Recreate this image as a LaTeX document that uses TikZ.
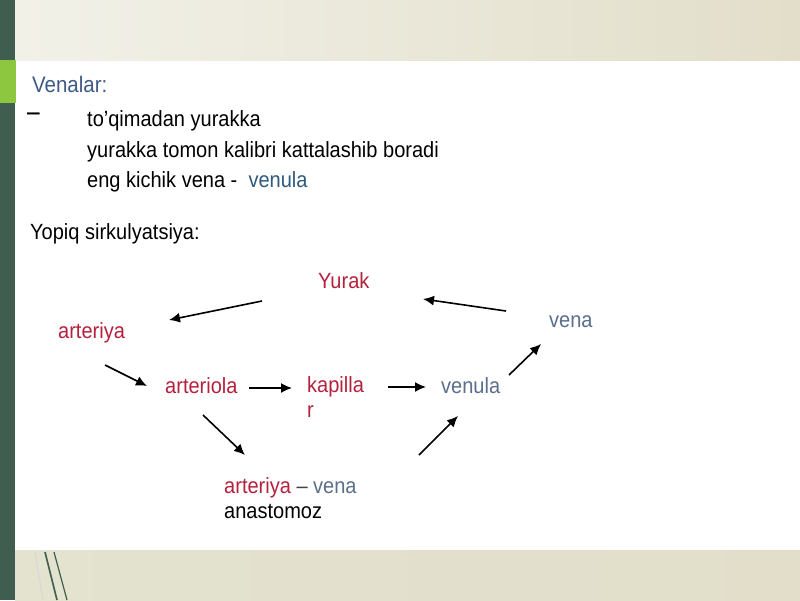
\documentclass[tikz,border=0pt]{standalone}
\usepackage{fontspec}
\setmainfont{Liberation Sans}[FakeStretch=0.91]
\newfontfamily\dashfont{Liberation Sans}[FakeBold=1.5]
\usetikzlibrary{arrows.meta}
\definecolor{slidegreen}{HTML}{3F5E4F}
\definecolor{slidelime}{HTML}{8DC63F}
\definecolor{bandleft}{HTML}{F2F1E8}
\definecolor{bandright}{HTML}{E2DECA}
\definecolor{bandbottom}{HTML}{E3E3D0}
\definecolor{arteryred}{HTML}{B5213D}
\definecolor{veinblue}{HTML}{5B6F8C}
\definecolor{titleblue}{HTML}{3F5A86}
\definecolor{textblue}{HTML}{2F5A7E}
\tikzset{
	slidetext/.style={anchor=base west,inner sep=0pt,font=\myfonttext},
	arrowline/.style={line width=1.6pt,-{Latex[length=11pt,width=10pt]}},
}
\begin{document}
\begin{tikzpicture}[x=1pt,y=-1pt]
			\newcommand{\myfonttext}{\fontsize{22}{25}\selectfont}
			\newcommand{\myfonttitle}{\fontsize{22.5}{25}\selectfont}
			%Slide background
			\useasboundingbox (0,0) rectangle (800,600);
			\fill[white] (0,0) rectangle (800,600);
			\shade[left color=bandleft,right color=bandright] (15,0) rectangle (800,60);
			\shade[left color=bandbottom,right color=bandright] (15,550) rectangle (800,600);
			\fill[slidegreen] (0,0) rectangle (15,600);
			\fill[slidelime] (0,60) rectangle (16,103);
			%Lines at the bottom left
			\draw[black!15,line width=1pt] (35,552) -- (43,600);
			\draw[slidegreen,line width=1.6pt] (45,552) -- (57,600);
			\draw[slidegreen,line width=1.2pt] (54,552) -- (67,600);
			%Text at the top
			\node [slidetext,text=titleblue,font=\myfonttitle] (venalar) at (32,92) {Venalar:};
			\node [slidetext,font=\myfonttext\dashfont] (dash) at (27,119) {–};
			\node [slidetext] (line1) at (87,126) {to’qimadan yurakka};
			\node [slidetext] (line2) at (87,157) {yurakka tomon kalibri kattalashib boradi};
			\node [slidetext] (line3) at (87,187) {eng kichik vena -\ \ \textcolor{textblue}{venula}};
			\node [slidetext] (yopiq) at (30,239) {Yopiq sirkulyatsiya:};
			% Vessels in the circle
			\node [slidetext,text=arteryred] (yurak) at (318,288) {Yurak};
			\node [slidetext,text=arteryred] (arteriya) at (58,338) {arteriya};
			\node [slidetext,text=arteryred] (arteriola) at (165,393) {arteriola};
			\node [slidetext,text=arteryred,align=left] (kapillar) at (307,417) {kapilla\\r};
			\node [slidetext,text=veinblue] (venula) at (441,393) {venula};
			\node [slidetext,text=veinblue] (vena) at (549,327) {vena};
			\node [slidetext,align=left] (anastomoz) at (224,518) {\textcolor{arteryred}{arteriya} \textcolor{black!75}{–} \textcolor{veinblue}{vena}\\anastomoz};
			%Arrows
			\coordinate (yr1) at (262,301);
			\coordinate (yr2) at (169,320);
			\coordinate (vy1) at (506,311);
			\coordinate (vy2) at (423,299);
			\coordinate (aa1) at (105,365);
			\coordinate (aa2) at (147,386);
			\coordinate (ak1) at (249,388);
			\coordinate (ak2) at (292,388);
			\coordinate (kv1) at (388,387);
			\coordinate (kv2) at (426,387);
			\coordinate (an1) at (203,415);
			\coordinate (an2) at (245,455);
			\coordinate (av1) at (419,455);
			\coordinate (av2) at (458,416);
			\coordinate (vv1) at (509,375);
			\coordinate (vv2) at (541,344);
			\foreach \a/\b in {yr1/yr2,vy1/vy2,aa1/aa2,ak1/ak2,kv1/kv2,an1/an2,av1/av2,vv1/vv2} {
				\draw [arrowline] (\a) -- (\b);
			}
\end{tikzpicture}
\end{document}
